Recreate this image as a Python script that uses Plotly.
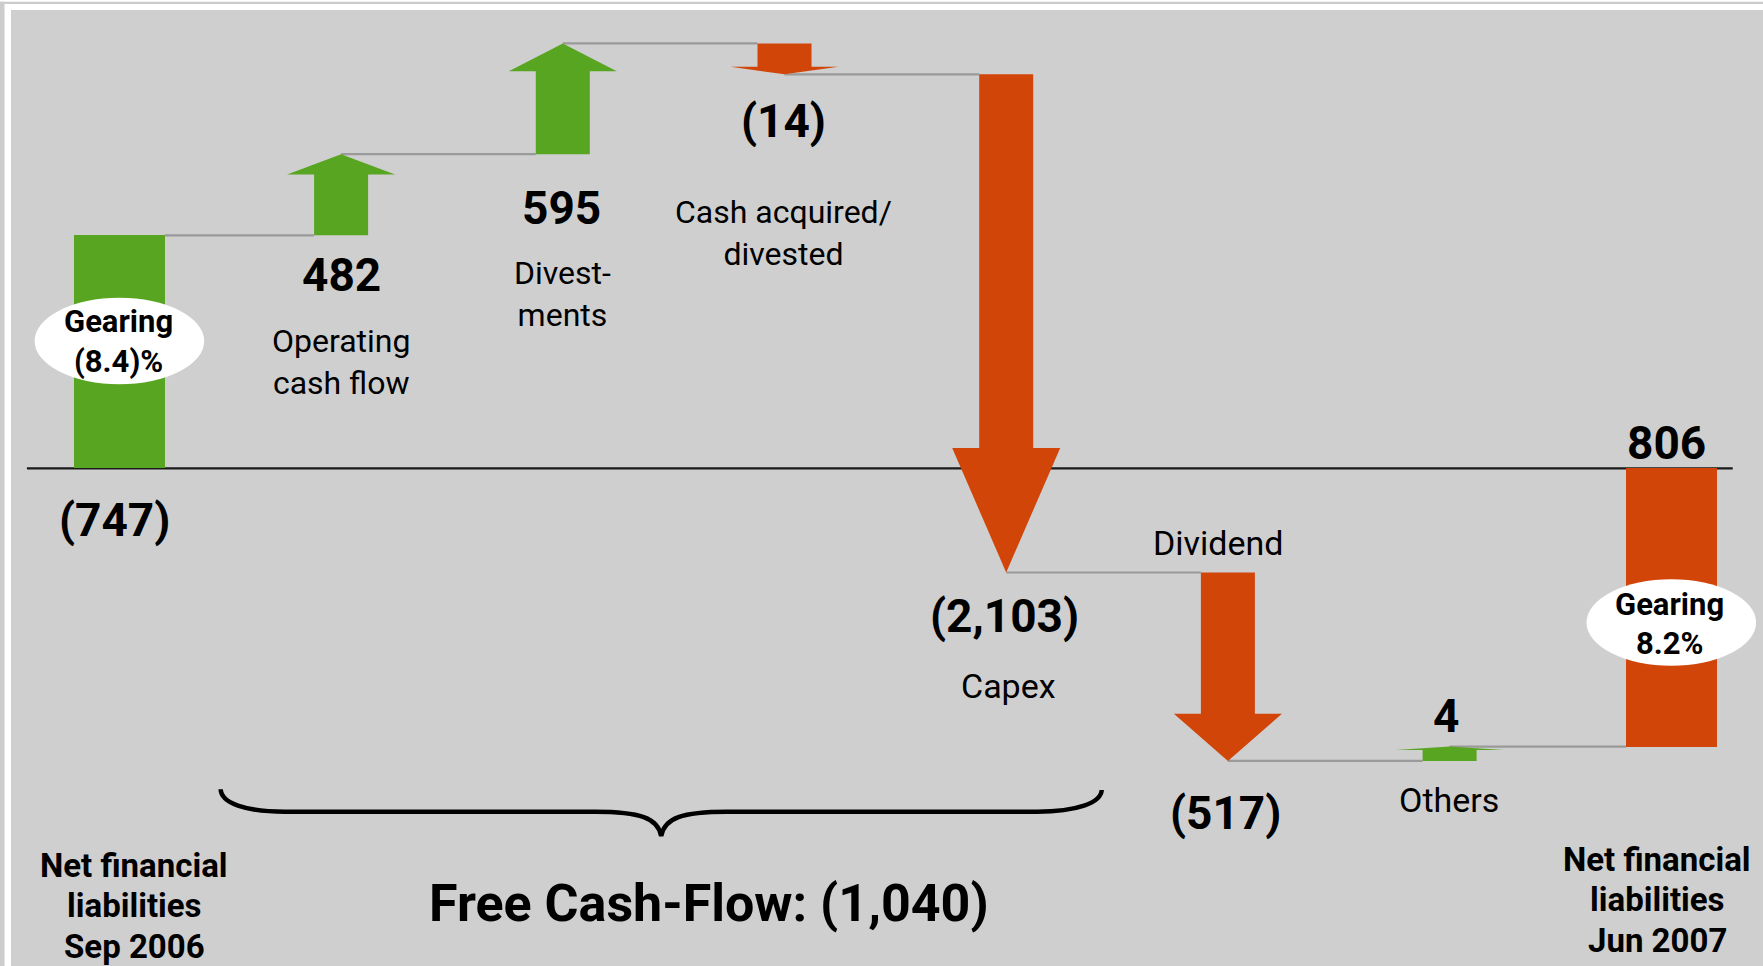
import plotly.graph_objects as go
import numpy as np

# ---------------- data ----------------
categories = ["Net financial liabilities Sep 2006", "Operating cash flow", "Divestments",
              "Cash acquired/divested", "Capex", "Dividend", "Others",
              "Net financial liabilities Jun 2007"]
label_lines = [["Net financial", "liabilities", "Sep 2006"],
               ["Operating", "cash flow"],
               ["Divest-", "ments"],
               ["Cash acquired/", "divested"],
               ["Capex"],
               ["Dividend"],
               ["Others"],
               ["Net financial", "liabilities", "Jun 2007"]]
# values as labelled (EUR m); negative shown in parentheses
values = [-747, 482, 595, -14, -2103, -517, 4, 806]
# heights of the marks as drawn in the source picture (the chart is not to scale)
drawn = [747, 260, 355, -99, -1597, -604, 46]
gearing = [-8.4, 8.2]

# ---------------- style / layout ----------------
W, H = 1763, 966
FONT = "Roboto, Arial, sans-serif"
GREEN = "#58a522"
RED = "#d24508"
PANEL = "#cfcfcf"
CONN = "#9a9a9a"

X0_PX, DX_PX = 119.4, 221.7          # pixel position of first category, spacing
ZERO_PX, UNIT_PX = 468.3, 233.0 / 747  # zero line pixel row, pixels per drawn unit


def px2x(px):
    return (px - X0_PX) / DX_PX


def px2y(py):
    return (ZERO_PX - py) / UNIT_PX


BAR_W = 90.7 / DX_PX
SHAFT_W = 54.0 / DX_PX
HEAD_W = 108.0 / DX_PX
HEAD_FRAC = 0.25


def fmt(v):
    return f"({abs(v):,})" if v < 0 else f"{v:,}"


def fmt_pct(v):
    return f"({abs(v):.1f})%" if v < 0 else f"{v:.1f}%"


levels = list(np.cumsum(drawn))
n = len(categories)
xs = list(range(n))

fig = go.Figure()

# connectors
for i in range(1, n):
    y = levels[i - 1]
    x_start = xs[i - 1] + (BAR_W / 2 if i - 1 == 0 else 0)
    x_end = xs[i] - (BAR_W / 2 if i == n - 1 else SHAFT_W / 2)
    fig.add_trace(go.Scatter(x=[x_start, x_end], y=[y, y], mode="lines",
                             line=dict(color=CONN, width=2.2), hoverinfo="skip",
                             showlegend=False))

# start / end bars
fig.add_trace(go.Bar(x=[xs[0]], y=[levels[0]], base=[0], width=BAR_W,
                     marker=dict(color=GREEN, line=dict(width=0)), showlegend=False,
                     hoverinfo="skip"))
fig.add_trace(go.Bar(x=[xs[-1]], y=[levels[-1]], base=[0], width=BAR_W,
                     marker=dict(color=RED, line=dict(width=0)), showlegend=False,
                     hoverinfo="skip"))

# arrows
for i in range(1, n - 1):
    a, b = levels[i - 1], levels[i]
    h = a + (1 - HEAD_FRAC) * (b - a)
    c = xs[i]
    px = [c - SHAFT_W / 2, c - SHAFT_W / 2, c - HEAD_W / 2, c, c + HEAD_W / 2,
          c + SHAFT_W / 2, c + SHAFT_W / 2, c - SHAFT_W / 2]
    py = [a, h, h, b, h, h, a, a]
    col = GREEN if b > a else RED
    fig.add_trace(go.Scatter(x=px, y=py, mode="lines", fill="toself", fillcolor=col,
                             line=dict(width=0, color=col), hoverinfo="skip",
                             showlegend=False))

shapes = []
# frame
shapes.append(dict(type="rect", xref="paper", yref="paper", x0=0, x1=1, y0=0, y1=1,
                   fillcolor="white", line=dict(width=0), layer="below"))
shapes.append(dict(type="rect", xref="paper", yref="paper", x0=11 / W, x1=1,
                   y0=0, y1=(H - 10) / H, fillcolor=PANEL, line=dict(width=0), layer="below"))
shapes.append(dict(type="rect", xref="paper", yref="paper", x0=0, x1=1,
                   y0=(H - 4) / H, y1=(H - 1.7) / H, fillcolor="#cccccc", line=dict(width=0),
                   layer="below"))
shapes.append(dict(type="rect", xref="paper", yref="paper", x0=0, x1=4.5 / W,
                   y0=0, y1=(H - 1.7) / H, fillcolor="#cccccc", line=dict(width=0),
                   layer="below"))
# zero line
shapes.append(dict(type="line", xref="x", yref="y", x0=xs[0] - 0.417, x1=xs[-1] + 0.277,
                   y0=0, y1=0, line=dict(color="#1a1a1a", width=2.2), layer="below"))

# gearing ellipses
ell_w = 169.6 / DX_PX
ell_h = 86.6 * (1 / UNIT_PX)
for gx, gy_px in [(xs[0], 341.0), (xs[-1], 622.5)]:
    yc = px2y(gy_px)
    shapes.append(dict(type="circle", xref="x", yref="y", x0=gx - ell_w / 2, x1=gx + ell_w / 2,
                       y0=yc - ell_h / 2, y1=yc + ell_h / 2, fillcolor="white",
                       line=dict(width=0), layer="above"))


# brace (free cash flow)
def P(px, py):
    return f"{px2x(px):.4f},{px2y(py):.2f}"


brace = (f"M{P(220.7, 789.3)} C{P(221, 803)} {P(245, 811.7)} {P(285, 811.7)} "
         f"L{P(595, 811.7)} C{P(640, 811.7)} {P(658, 818)} {P(661.2, 836)} "
         f"C{P(664.5, 818)} {P(682, 811.7)} {P(727, 811.7)} "
         f"L{P(1037, 811.7)} C{P(1077, 811.7)} {P(1101, 803)} {P(1101.7, 790)}")
shapes.append(dict(type="path", xref="x", yref="y", path=brace,
                   line=dict(color="black", width=4.5)))

fig.update_layout(shapes=shapes)


def add_text(x, y_px, text, size, bold=False, xshift=0):
    fig.add_annotation(x=x, y=px2y(y_px), text=(f"<b>{text}</b>" if bold else text),
                       showarrow=False, xanchor="center", yanchor="middle",
                       xshift=xshift, font=dict(family=FONT, size=size, color="black"))


# value labels
val_pos = [(-4.7, 520), (0, 275), (-1, 208), (-0.6, 121), (-1.5, 616), (-2.3, 813),
           (-4, 715.5), (-4.8, 442.5)]
for i, (dx, ypx) in enumerate(val_pos):
    add_text(xs[i], ypx, fmt(values[i]), 46, bold=True, xshift=dx)

# category labels (multi-line ones as one text block each)
cat_pos = {1: (0, 361.5), 2: (0, 293.5), 3: (-1.3, 233), 4: (2, 685.5),
           5: (-9.6, 542.5), 6: (-1, 800)}
for i, (dx, ypx) in cat_pos.items():
    size = 32 if len(label_lines[i]) > 1 else 34
    add_text(xs[i], ypx, "<br>".join(label_lines[i]), size, xshift=dx)

for i, dx, ys in [(0, 15, [865, 905.5, 946]), (n - 1, -14, [859.5, 899.8, 940.1])]:
    for line, ypx in zip(label_lines[i], ys):
        add_text(xs[i], ypx, line, 33, bold=True, xshift=dx)

# gearing labels
for i, g, dx, ys in [(0, gearing[0], -0.5, [321, 361.5]), (n - 1, gearing[1], -2, [604, 643])]:
    add_text(xs[i], ys[0], "Gearing", 31, bold=True, xshift=dx)
    add_text(xs[i], ys[1], fmt_pct(g), 31, bold=True, xshift=dx)

# free cash flow
fcf = sum(values[1:5])
add_text(px2x(709), 903, f"Free Cash-Flow: {fmt(fcf)}", 52, bold=True)

fig.update_layout(
    width=W, height=H, margin=dict(l=0, r=0, t=0, b=0, pad=0),
    paper_bgcolor="white", plot_bgcolor="rgba(0,0,0,0)",
    xaxis=dict(range=[px2x(0), px2x(W)], visible=False, fixedrange=True),
    yaxis=dict(range=[px2y(H), px2y(0)], visible=False, fixedrange=True),
    showlegend=False, bargap=0,
)

fig.write_html("out.html", config={"displayModeBar": False},
               post_script="document.body.style.margin='0';document.body.style.overflow='hidden';")
